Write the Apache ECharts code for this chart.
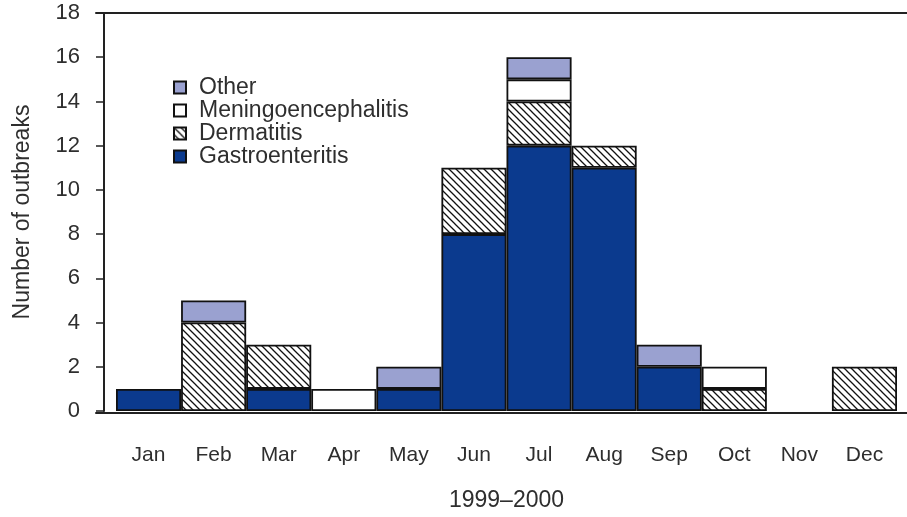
<!DOCTYPE html>
<html>
<head>
<meta charset="utf-8">
<script src="https://cdn.jsdelivr.net/npm/echarts@6/dist/echarts.min.js"></script>
<style>
  html, body { margin: 0; padding: 0; background: #fff; }
  #chart { width: 907px; height: 517px; }
</style>
</head>
<body>
<div id="chart"></div>
<script>
// Monthly outbreak counts by illness type, 1999–2000
const months = ['Jan', 'Feb', 'Mar', 'Apr', 'May', 'Jun', 'Jul', 'Aug', 'Sep', 'Oct', 'Nov', 'Dec'];
const gastroenteritis = [1, 0, 1, 0, 1, 8, 12, 11, 2, 0, 0, 0];
const dermatitis      = [0, 4, 2, 0, 0, 3, 2, 1, 0, 1, 0, 2];
const meningo         = [0, 0, 0, 1, 0, 0, 1, 0, 0, 1, 0, 0];
const other           = [0, 1, 0, 0, 1, 0, 1, 0, 1, 0, 0, 0];
const yTicks = [0, 2, 4, 6, 8, 10, 12, 14, 16, 18];

const FONT = '"Liberation Sans", Arial, sans-serif';
const TEXT = '#2e2e2e';

// Diagonal hatch used for the dermatitis segments
function hatchPattern() {
  const s = 7;
  const c = document.createElement('canvas');
  c.width = s; c.height = s;
  const g = c.getContext('2d');
  g.fillStyle = '#fff';
  g.fillRect(0, 0, s, s);
  g.strokeStyle = '#111';
  g.lineWidth = 1.3;
  g.beginPath();
  g.moveTo(-1, -1); g.lineTo(s + 1, s + 1);
  g.moveTo(-1, s - 1); g.lineTo(1, s + 1);
  g.moveTo(s - 1, -1); g.lineTo(s + 1, 1);
  g.stroke();
  return c;
}

const border = { borderColor: '#111', borderWidth: 1.8 };
const clean = arr => arr.map(v => (v === 0 ? null : v));

const chart = echarts.init(document.getElementById('chart'));
chart.setOption({
  animation: false,
  textStyle: { fontFamily: FONT },
  legend: {
    orient: 'vertical',
    left: 168,
    top: 71,
    icon: 'rect',
    itemWidth: 12,
    itemHeight: 12,
    itemGap: 0,
    data: ['Other', 'Meningoencephalitis', 'Dermatitis', 'Gastroenteritis'],
    textStyle: { fontFamily: FONT, fontSize: 23, color: TEXT, padding: [0, 0, 0, 8] }
  },
  grid: [
    { left: 116, right: 10, top: 13, bottom: 104 },
    { left: 96, right: 0, top: 13, bottom: 104 }
  ],
  xAxis: [
    {
      type: 'category',
      gridIndex: 0,
      data: months,
      boundaryGap: true,
      axisLine: { show: false },
      axisTick: { alignWithLabel: true, length: 9, lineStyle: { color: '#222', width: 1.5 } },
      axisLabel: { margin: 34, fontSize: 21, color: TEXT, fontFamily: FONT },
      name: '1999–2000',
      nameLocation: 'middle',
      nameGap: 78,
      nameTextStyle: { fontSize: 23, color: TEXT, fontFamily: FONT }
    },
    {
      type: 'value', gridIndex: 1, position: 'bottom', min: 0, max: 1,
      axisLine: { show: true, lineStyle: { color: '#222', width: 2 } },
      axisTick: { show: false }, axisLabel: { show: false }, splitLine: { show: false }
    },
    {
      type: 'value', gridIndex: 1, position: 'top', min: 0, max: 1,
      axisLine: { show: true, lineStyle: { color: '#222', width: 2 } },
      axisTick: { show: false }, axisLabel: { show: false }, splitLine: { show: false }
    }
  ],
  yAxis: [
    {
      type: 'value',
      gridIndex: 0,
      min: 0, max: 18, interval: 2,
      offset: 12,
      axisLine: { show: true, lineStyle: { color: '#222', width: 2 } },
      axisTick: { show: true, length: 8, lineStyle: { color: '#222', width: 1.5 } },
      axisLabel: {
        margin: 24, fontSize: 22, color: TEXT, fontFamily: FONT,
        formatter: v => (yTicks.includes(v) ? String(v) : '')
      },
      splitLine: { show: false },
      name: 'Number of outbreaks',
      nameLocation: 'middle',
      nameGap: 70,
      nameTextStyle: { fontSize: 23, color: TEXT, fontFamily: FONT }
    },
    {
      type: 'value', gridIndex: 1, min: 0, max: 1, show: false
    }
  ],
  series: [
    {
      name: 'Gastroenteritis', type: 'bar', stack: 'all', barCategoryGap: 0,
      data: clean(gastroenteritis),
      itemStyle: Object.assign({ color: '#0b3a8e' }, border)
    },
    {
      name: 'Dermatitis', type: 'bar', stack: 'all', barCategoryGap: 0,
      data: clean(dermatitis),
      itemStyle: Object.assign({ color: { image: hatchPattern(), repeat: 'repeat' } }, border)
    },
    {
      name: 'Meningoencephalitis', type: 'bar', stack: 'all', barCategoryGap: 0,
      data: clean(meningo),
      itemStyle: Object.assign({ color: '#ffffff' }, border)
    },
    {
      name: 'Other', type: 'bar', stack: 'all', barCategoryGap: 0,
      data: clean(other),
      itemStyle: Object.assign({ color: '#9aa1d0' }, border)
    }
  ]
});
</script>
</body>
</html>
